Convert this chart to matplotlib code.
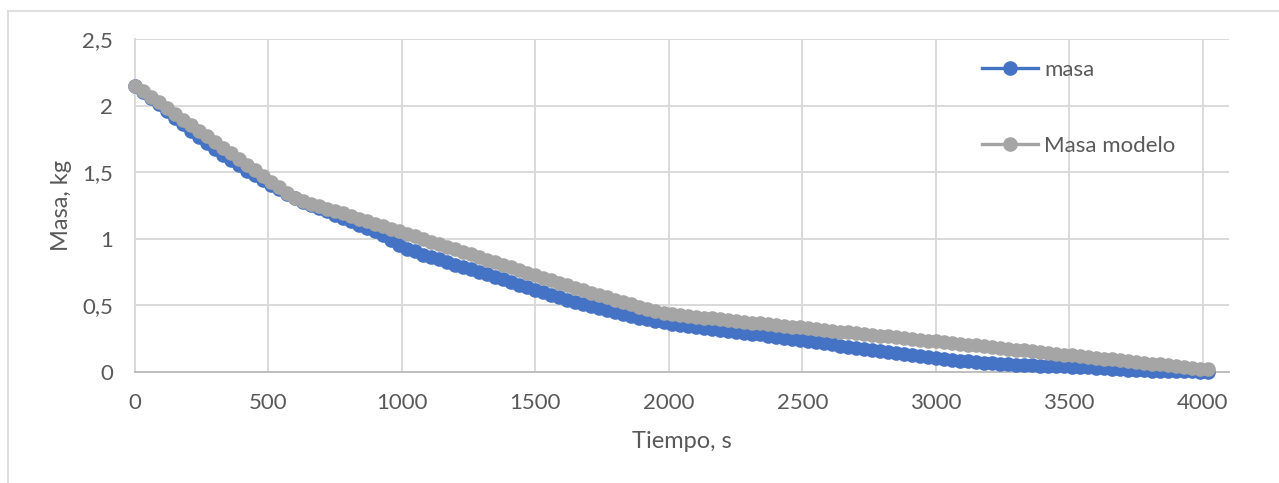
import matplotlib
matplotlib.use("Agg")
import matplotlib.pyplot as plt
from matplotlib.lines import Line2D

# ---------------- data ----------------
tiempo = list(range(0, 4021, 30))  # s

masa = [
    2.150, 2.100, 2.060, 2.010, 1.960, 1.910, 1.860, 1.810, 1.760, 1.720,
    1.670, 1.630, 1.590, 1.550, 1.510, 1.475, 1.440, 1.400, 1.370, 1.335,
    1.305,
    1.278, 1.252, 1.230, 1.205, 1.180, 1.155, 1.135, 1.105, 1.080, 1.055,
    1.025, 0.990, 0.955, 0.925, 0.905, 0.880, 0.860, 0.845, 0.825, 0.805,
    0.790, 0.770, 0.750, 0.735, 0.715, 0.695, 0.675, 0.655, 0.635, 0.615,
    0.600, 0.580, 0.560, 0.540, 0.525, 0.505, 0.490, 0.475, 0.460, 0.445,
    0.430, 0.418, 0.405, 0.393, 0.380, 0.370, 0.360,
    0.352, 0.345, 0.338, 0.330, 0.322, 0.316, 0.308, 0.300, 0.292, 0.285,
    0.280, 0.272, 0.262, 0.255, 0.246, 0.238, 0.230, 0.222, 0.213, 0.205,
    0.196, 0.188, 0.180, 0.170, 0.162, 0.153, 0.145, 0.138, 0.130, 0.122,
    0.115, 0.108, 0.100, 0.094, 0.088, 0.082, 0.077, 0.072, 0.067, 0.063,
    0.058, 0.055, 0.052, 0.050, 0.048, 0.046, 0.044, 0.042, 0.040, 0.038,
    0.036, 0.033, 0.030, 0.027, 0.023, 0.019, 0.015, 0.012, 0.010, 0.008,
    0.006, 0.005, 0.004, 0.003, 0.002, 0.001, 0.000,
]

masa_modelo = [
    2.150, 2.108, 2.065, 2.023, 1.980, 1.938, 1.895, 1.853, 1.810, 1.768,
    1.725, 1.683, 1.640, 1.598, 1.555, 1.513, 1.470, 1.428, 1.385, 1.343,
    1.305,
    1.282, 1.262, 1.243, 1.225, 1.207, 1.189, 1.170, 1.151, 1.132, 1.113,
    1.094, 1.075, 1.056, 1.037, 1.017, 0.998, 0.978, 0.959, 0.939, 0.920,
    0.900, 0.881, 0.861, 0.842, 0.822, 0.803, 0.783, 0.764, 0.745, 0.726,
    0.707, 0.688, 0.669, 0.650, 0.632, 0.613, 0.595, 0.577, 0.559, 0.541,
    0.523, 0.505, 0.488, 0.472, 0.457, 0.444, 0.434,
    0.427, 0.420, 0.413, 0.406, 0.400, 0.394, 0.387, 0.381, 0.375, 0.369,
    0.363, 0.357, 0.351, 0.345, 0.339, 0.333, 0.327, 0.321, 0.314, 0.308,
    0.302, 0.296, 0.290, 0.284, 0.277, 0.271, 0.265, 0.259, 0.253, 0.247,
    0.240, 0.234, 0.228, 0.222, 0.216, 0.210, 0.203, 0.197, 0.191, 0.185,
    0.179, 0.172, 0.166, 0.160, 0.154, 0.148, 0.141, 0.135, 0.129, 0.123,
    0.117, 0.110, 0.104, 0.098, 0.092, 0.086, 0.079, 0.073, 0.067, 0.061,
    0.055, 0.048, 0.042, 0.036, 0.030, 0.024, 0.018,
]

x_ticks = [0, 500, 1000, 1500, 2000, 2500, 3000, 3500, 4000]
x_tick_labels = ["0", "500", "1000", "1500", "2000", "2500", "3000", "3500", "4000"]
y_ticks = [0, 0.5, 1, 1.5, 2, 2.5]
y_tick_labels = ["0", "0,5", "1", "1,5", "2", "2,5"]

series_names = ["masa", "Masa modelo"]
x_title = "Tiempo, s"
y_title = "Masa, kg"

# ---------------- style ----------------
plt.rcParams["font.family"] = ["Lato", "DejaVu Sans"]
W, H = 1279, 483
fig = plt.figure(figsize=(W / 100, H / 100), dpi=100)

BLUE = "#4472C4"
GRAY = "#A5A5A5"
TXT = "#595959"
GRID = "#D9D9D9"

left, right, top, bottom = 135, 1229, 39, 371.7
ax = fig.add_axes([left / W, 1 - bottom / H, (right - left) / W, (bottom - top) / H])

ax.plot(tiempo, masa, color=BLUE, lw=2.4, marker="o", ms=9.5,
        mfc=BLUE, mec=BLUE, label=series_names[0], zorder=3, clip_on=False)
ax.plot(tiempo, masa_modelo, color=GRAY, lw=2.4, marker="o", ms=9.5,
        mfc=GRAY, mec=GRAY, label=series_names[1], zorder=4, clip_on=False)

x_per_px = 500 / 133.46
ax.set_xlim(0, (right - left) * x_per_px)
ax.set_ylim(0, 2.5)

ax.set_xticks(x_ticks)
ax.set_xticklabels(x_tick_labels)
ax.set_yticks(y_ticks)
ax.set_yticklabels(y_tick_labels)
ax.tick_params(axis="both", length=0, labelsize=16, labelcolor=TXT)
ax.tick_params(axis="x", pad=15)
ax.tick_params(axis="y", pad=16)

ax.grid(True, color=GRID, lw=1.4, zorder=0)
ax.set_axisbelow(True)
for s in ["top", "right"]:
    ax.spines[s].set_visible(False)
ax.spines["left"].set_color(GRID)
ax.spines["left"].set_linewidth(1.4)
ax.spines["bottom"].set_color("#BFBFBF")
ax.spines["bottom"].set_linewidth(1.4)

# axis titles
fig.text(61 / W, 1 - 205 / H, y_title, rotation=90, ha="center", va="center",
         fontsize=17, color=TXT)
fig.text(681.7 / W, 1 - 441 / H, x_title, ha="center", va="center",
         fontsize=17, color=TXT)

# legend
handles = [
    Line2D([], [], color=BLUE, lw=2.4, marker="o", ms=9.5, mfc=BLUE, mec=BLUE),
    Line2D([], [], color=GRAY, lw=2.4, marker="o", ms=9.5, mfc=GRAY, mec=GRAY),
]
leg = fig.legend(handles, series_names, loc="upper left",
                 bbox_to_anchor=(982 / W, 1 - 60 / H), frameon=False,
                 fontsize=16, labelcolor=TXT, handlelength=2.5,
                 handletextpad=0.3, labelspacing=2.5, borderpad=0,
                 borderaxespad=0)

# chart-area border
fig.add_artist(Line2D([8 / W, 8 / W], [0, 1 - 10.7 / H], color=GRID, lw=1.2,
                      transform=fig.transFigure))
fig.add_artist(Line2D([8 / W, 1], [1 - 10.7 / H, 1 - 10.7 / H], color=GRID, lw=1.2,
                      transform=fig.transFigure))

fig.savefig("out.png", dpi=100)
